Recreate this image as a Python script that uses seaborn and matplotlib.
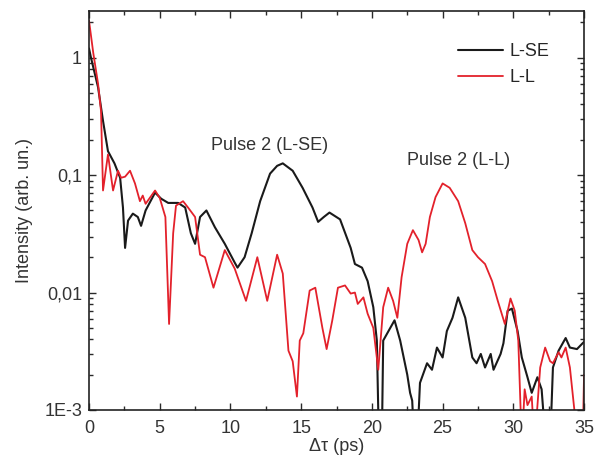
import numpy as np
import pandas as pd
import matplotlib
matplotlib.use('Agg')
import matplotlib.pyplot as plt
import matplotlib.ticker as mticker
import seaborn as sns

sns.set_style('ticks')
plt.rcParams['font.family'] = ['Liberation Sans', 'DejaVu Sans']

# ---------------------------------------------------------------
# Data; values below 1E-3 fall off the axis
# ---------------------------------------------------------------
lse_x = [0.0, 0.14, 0.64, 0.99, 1.34, 1.8, 2.2, 2.4, 2.55, 2.76, 3.1, 3.45,
         3.68, 4.0, 4.67, 5.1, 5.6, 6.3, 6.8, 7.2, 7.5, 7.85, 8.3, 8.9, 9.6,
         10.3, 10.5, 11.0, 11.5, 12.1, 12.8, 13.3, 13.7, 14.4, 15.1, 15.8, 16.2,
         16.6, 17.0, 17.75, 18.5, 18.8, 19.3, 19.7, 20.1, 20.35, 20.5, 20.7,
         20.8, 21.3, 21.6, 22.0, 22.5, 22.7, 22.85, 23.0, 23.2, 23.4, 23.9,
         24.25, 24.6, 25.0, 25.3, 25.7, 26.1, 26.6, 27.1, 27.4, 27.7, 28.0, 28.4,
         28.6, 29.1, 29.3, 29.6, 29.9, 30.3, 30.6, 31.0, 31.3, 31.7, 32.0, 32.3,
         32.6, 32.8, 33.2, 33.7, 34.0, 34.5, 34.9, 35.0]
lse_y = [1.2, 1.0, 0.56, 0.29, 0.16, 0.126, 0.095, 0.053, 0.024, 0.041, 0.047,
         0.044, 0.037, 0.05, 0.071, 0.063, 0.058, 0.058, 0.053, 0.032, 0.026,
         0.044, 0.05, 0.036, 0.026, 0.018, 0.0163, 0.02, 0.032, 0.06, 0.103,
         0.12, 0.126, 0.109, 0.078, 0.053, 0.04, 0.044, 0.048, 0.042, 0.024,
         0.0175, 0.0163, 0.0125, 0.0075, 0.0039, 0.0005, 0.0005, 0.0039, 0.005,
         0.0058, 0.0039, 0.002, 0.0014, 0.0012, 0.0005, 0.0005, 0.0017, 0.0025,
         0.0022, 0.0034, 0.0028, 0.0047, 0.0061, 0.0091, 0.0061, 0.0028, 0.0025,
         0.003, 0.0023, 0.003, 0.0022, 0.003, 0.0037, 0.007, 0.0073, 0.0047,
         0.0028, 0.0019, 0.0014, 0.0019, 0.0015, 0.0005, 0.0005, 0.0023, 0.0032,
         0.0041, 0.0034, 0.0033, 0.0037, 0.0038]

ll_x = [0.0, 0.3, 0.64, 0.85, 0.99, 1.34, 1.7, 2.05, 2.27, 2.55, 2.9, 3.25,
        3.6, 3.8, 4.0, 4.67, 5.0, 5.4, 5.66, 5.95, 6.15, 6.65, 7.0, 7.5, 7.85,
        8.2, 8.8, 9.1, 9.6, 10.3, 11.1, 11.9, 12.6, 13.3, 13.7, 14.1, 14.4,
        14.7, 14.9, 15.15, 15.6, 16.0, 16.5, 16.8, 17.2, 17.6, 18.1, 18.5, 18.8,
        19.0, 19.4, 19.7, 20.1, 20.45, 20.8, 21.15, 21.5, 21.8, 22.1, 22.5,
        22.9, 23.3, 23.55, 23.8, 24.1, 24.5, 25.0, 25.5, 26.1, 26.6, 27.1, 27.5,
        28.0, 28.5, 28.9, 29.4, 29.8, 30.1, 30.35, 30.6, 30.8, 31.0, 31.3, 31.5,
        31.9, 32.25, 32.6, 32.8, 33.2, 33.4, 33.7, 34.0, 34.4, 34.6, 34.9, 35.0]
ll_y = [2.07, 1.1, 0.6, 0.35, 0.074, 0.15, 0.074, 0.109, 0.095, 0.097, 0.109,
        0.085, 0.06, 0.067, 0.057, 0.074, 0.064, 0.044, 0.0054, 0.032, 0.055,
        0.06, 0.053, 0.044, 0.021, 0.02, 0.011, 0.0145, 0.023, 0.016, 0.0085,
        0.02, 0.0085, 0.021, 0.0145, 0.0032, 0.0026, 0.0013, 0.0039, 0.0045,
        0.0104, 0.011, 0.005, 0.0033, 0.0058, 0.011, 0.0115, 0.0098, 0.01,
        0.008, 0.0091, 0.0066, 0.005, 0.0022, 0.0075, 0.011, 0.0085, 0.0061,
        0.0135, 0.026, 0.034, 0.028, 0.022, 0.026, 0.044, 0.065, 0.085, 0.078,
        0.06, 0.039, 0.023, 0.02, 0.0175, 0.0125, 0.0085, 0.0054, 0.0089, 0.007,
        0.0039, 0.0005, 0.0015, 0.0011, 0.0013, 0.0005, 0.0023, 0.0034, 0.0026,
        0.0025, 0.0031, 0.0028, 0.0034, 0.0023, 0.0008, 0.0005, 0.0005, 0.002]

series_names = ['L-SE', 'L-L']
series_colors = ['#1a1a1a', '#e3212b']

y_ticks = [1e-3, 1e-2, 1e-1, 1]
y_ticklabels = ['1E-3', '0,01', '0,1', '1']

df = pd.concat([
    pd.DataFrame({'dt': lse_x, 'I': lse_y, 'series': 'L-SE'}),
    pd.DataFrame({'dt': ll_x, 'I': ll_y, 'series': 'L-L'}),
], ignore_index=True)

# ---------------------------------------------------------------
# Plot
# ---------------------------------------------------------------
fig = plt.figure(figsize=(5.95, 4.68), dpi=100)
ax = fig.add_axes([0.1496, 0.124, 0.832, 0.8525])

for name, color, lw in zip(series_names, series_colors, [1.5, 1.3]):
    sns.lineplot(data=df[df['series'] == name], x='dt', y='I', color=color,
                 lw=lw, ax=ax, label=name, sort=False)

ax.set_yscale('log')
ax.set_xlim(0, 35)
ax.set_ylim(1e-3, 2.5)
ax.set_yticks(y_ticks)
ax.set_yticklabels(y_ticklabels)
ax.yaxis.set_minor_locator(mticker.LogLocator(base=10, subs=np.arange(2, 10)))
ax.yaxis.set_minor_formatter(mticker.NullFormatter())
ax.set_xticks(np.arange(0, 36, 5))
ax.xaxis.set_minor_locator(mticker.MultipleLocator(2.5))

ax.tick_params(which='both', direction='in', top=True, right=True,
               labelsize=13, colors='#2a2a2a', width=1, labelcolor='#333333')
ax.tick_params(which='major', length=5)
ax.tick_params(which='minor', length=3)
ax.tick_params(axis='x', pad=7)
ax.tick_params(axis='y', pad=5)
for s in ax.spines.values():
    s.set_linewidth(1.2)
    s.set_color('#222222')

ax.set_xlabel('Δτ (ps)', fontsize=13, color='#333333', labelpad=1)
ax.set_ylabel('Intensity (arb. un.)', fontsize=13, color='#333333', labelpad=8)

ax.text(12.8, 0.18, 'Pulse 2 (L-SE)', ha='center', va='center',
        fontsize=13, color='#333333')
ax.text(26.1, 0.133, 'Pulse 2 (L-L)', ha='center', va='center',
        fontsize=13, color='#333333')

ax.legend(loc='upper left', bbox_to_anchor=(0.745, 0.92), frameon=False,
          fontsize=13, handlelength=2.5, handletextpad=0.35, labelspacing=0.5,
          borderaxespad=0, borderpad=0)

fig.savefig('out.png', dpi=100)
plt.close()
